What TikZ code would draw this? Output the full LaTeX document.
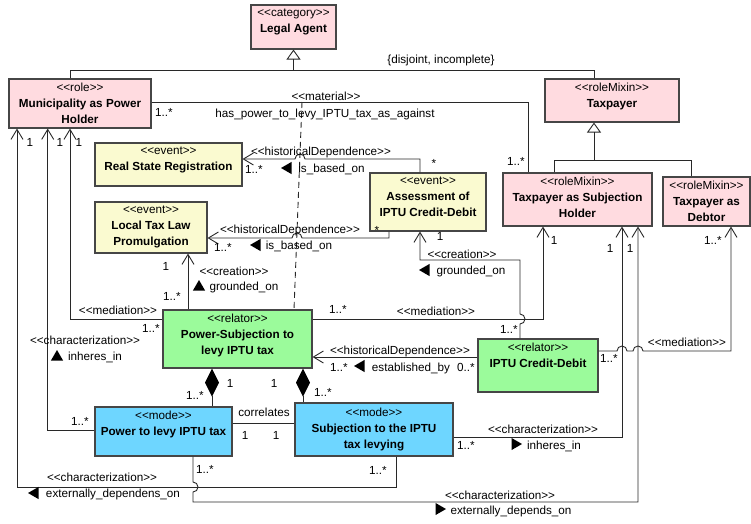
\documentclass[tikz,border=0pt]{standalone}
\usepackage{fontspec}
\setmainfont{Liberation Sans}
\usepackage{tikz}
\usepackage{xcolor}
\usetikzlibrary{shapes, shapes.geometric, positioning, arrows.meta}

\definecolor{rolepink}{RGB}{255,219,224}
\definecolor{eventyellow}{RGB}{250,250,208}
\definecolor{relatorgreen}{RGB}{155,251,155}
\definecolor{modeblue}{RGB}{110,214,255}
\definecolor{boxedge}{RGB}{70,70,70}
\definecolor{wireclr}{RGB}{40,40,40}

\newcommand{\stereo}[1]{<{}<#1>{}>}

\begin{document}
\begin{tikzpicture}[x=1pt, y=-1pt,
        font=\fontsize{11.7}{16}\selectfont,
        umlbox/.style={draw=boxedge, line width=1.1pt, inner sep=0pt},
        boxtext/.style={align=center, inner sep=0pt},
        lbl/.style={inner sep=0pt, text height=8.5pt, text depth=2.5pt},
        wire/.style={draw=wireclr, line width=0.9pt},
        navi/.style={wire, -{Straight Barb[length=10pt, width=12pt]}},
        gen/.style={wire, -{Triangle[open, length=10pt, width=14pt]}},
        comp/.style={wire, {Diamond[length=28pt, width=14pt, color=black, fill=black]}-},
        tri/.style={regular polygon, regular polygon sides=3, fill=black, inner sep=0pt, minimum size=14pt}]
    \useasboundingbox (0, 0) rectangle (751, 523);

    % classes
    \node[umlbox, fill=rolepink, minimum width=85pt, minimum height=44pt] (legal) at (293.5, 27) {};
    \node[boxtext, below=4.5pt of legal.north] (legal-t) {\stereo{category}\\\textbf{Legal Agent}};
    \node[umlbox, fill=rolepink, minimum width=142pt, minimum height=49pt] (muni) at (80, 103.5) {};
    \node[boxtext, below=4.5pt of muni.north] (muni-t) {\stereo{role}\\\textbf{Municipality as Power}\\\textbf{Holder}};
    \node[umlbox, fill=rolepink, minimum width=134pt, minimum height=43pt] (taxp) at (612, 100.5) {};
    \node[boxtext, below=4.5pt of taxp.north] (taxp-t) {\stereo{roleMixin}\\\textbf{Taxpayer}};
    \node[umlbox, fill=rolepink, minimum width=149pt, minimum height=53pt] (tsh) at (577.5, 199.5) {};
    \node[boxtext, below=4.5pt of tsh.north] (tsh-t) {\stereo{roleMixin}\\\textbf{Taxpayer as Subjection}\\\textbf{Holder}};
    \node[umlbox, fill=rolepink, minimum width=87pt, minimum height=49pt] (debtor) at (706.5, 201.5) {};
    \node[boxtext, below=4.5pt of debtor.north] (debtor-t) {\stereo{roleMixin}\\\textbf{Taxpayer as}\\\textbf{Debtor}};

    \node[umlbox, fill=eventyellow, minimum width=147pt, minimum height=43pt] (rsr) at (168.5, 164.5) {};
    \node[boxtext, below=4.5pt of rsr.north] (rsr-t) {\stereo{event}\\\textbf{Real State Registration}};
    \node[umlbox, fill=eventyellow, minimum width=112pt, minimum height=51pt] (ltl) at (151, 227.5) {};
    \node[boxtext, below=4.5pt of ltl.north] (ltl-t) {\stereo{event}\\\textbf{Local Tax Law}\\\textbf{Promulgation}};
    \node[umlbox, fill=eventyellow, minimum width=116pt, minimum height=58pt] (assess) at (428, 202) {};
    \node[boxtext, below=4.5pt of assess.north] (assess-t) {\stereo{event}\\\textbf{Assessment of}\\\textbf{IPTU Credit-Debit}};

    \node[umlbox, fill=relatorgreen, minimum width=149pt, minimum height=58pt] (psr) at (237.5, 339) {};
    \node[boxtext, below=4pt of psr.north] (psr-t) {\stereo{relator}\\\textbf{Power-Subjection to}\\\textbf{levy IPTU tax}};
    \node[umlbox, fill=relatorgreen, minimum width=120pt, minimum height=53pt] (iptu) at (538, 365.5) {};
    \node[boxtext, below=4.5pt of iptu.north] (iptu-t) {\stereo{relator}\\\textbf{IPTU Credit-Debit}};

    \node[umlbox, fill=modeblue, minimum width=137pt, minimum height=49pt] (power) at (163.5, 431.5) {};
    \node[boxtext, below=4pt of power.north] (power-t) {\stereo{mode}\\\textbf{Power to levy IPTU tax}};
    \node[umlbox, fill=modeblue, minimum width=158pt, minimum height=53pt] (subj) at (374, 429.5) {};
    \node[boxtext, below=5pt of subj.north] (subj-t) {\stereo{mode}\\\textbf{Subjection to the IPTU}\\\textbf{tax levying}};

    % generalizations
    \coordinate (gsa) at (293.5, 70);
    \coordinate (gsb) at (594, 160);
    \draw[wire] (muni.north -| 70,0) -- (70, 70) -- (594, 70) -- (taxp.north -| 594,0);
    \draw[gen] (gsa) -- (legal.south);
    \node[lbl] (gs-a) at (441, 60) {\{disjoint, incomplete\}};
    \draw[wire] (tsh.north -| 554,0) -- (554, 160) -- (691, 160) -- (debtor.north -| 691,0);
    \draw[gen] (gsb) -- (gsb |- taxp.south);

    % material
    \coordinate (matpt) at (302, 102);
    \draw[wire] (muni.east |- 0,102) -| (tsh.north -| 528,0);
    \draw[wire, dash pattern=on 6pt off 4pt] (matpt) -- (psr.north -| 294,0);
    \node[lbl] (mat-m1) at (164, 113) {1..*};
    \node[lbl] (mat-st) at (326, 97) {\stereo{material}};
    \node[lbl] (mat-n) at (325, 114) {has\_power\_to\_levy\_IPTU\_tax\_as\_against};
    \node[lbl] (mat-m2) at (516, 162) {1..*};

    % historical dependences
    \draw[navi] (assess.north -| 420,0) |- (305, 159) arc[start angle=0, end angle=180, radius=5pt] -- (rsr.east |- 0,159);
    \node[lbl] (hd1-st) at (321, 152) {\stereo{historicalDependence}};
    \node[tri, rotate=90] (hd1-tri) at (288, 168) {};
    \node[lbl] (hd1-n) at (331.5, 169) {is\_based\_on};
    \node[lbl] (hd1-m1) at (254, 170) {1..*};
    \node[lbl] (hd1-m2) at (434, 164) {*};

    \draw[navi] (assess.south -| 389,0) |- (302, 238) arc[start angle=0, end angle=180, radius=5pt] -- (ltl.east |- 0,238);
    \node[lbl] (hd2-st) at (290, 230) {\stereo{historicalDependence}};
    \node[tri, rotate=90] (hd2-tri) at (257, 245) {};
    \node[lbl] (hd2-n) at (299, 246) {is\_based\_on};
    \node[lbl] (hd2-m1) at (223, 248) {1..*};
    \node[lbl] (hd2-m2) at (377, 231) {*};

    \draw[navi] (iptu.west |- 0,357) -- (psr.east |- 0,357);
    \node[lbl] (hd3-st) at (400, 351) {\stereo{historicalDependence}};
    \node[tri, rotate=90] (hd3-tri) at (361, 366) {};
    \node[lbl] (hd3-n) at (411, 368) {established\_by};
    \node[lbl] (hd3-m1) at (339, 368) {1..*};
    \node[lbl] (hd3-m2) at (466, 368) {0..*};

    % creations
    \draw[navi] (psr.north -| 188,0) -- (ltl.south -| 188,0);
    \node[lbl] (cr1-m1) at (166, 267) {1};
    \node[lbl] (cr1-m2) at (172, 297) {1..*};
    \node[lbl] (cr1-st) at (234, 272) {\stereo{creation}};
    \node[tri] (cr1-tri) at (199, 287) {};
    \node[lbl] (cr1-n) at (244, 287) {grounded\_on};

    \draw[navi] (iptu.north -| 520,0) -- (520, 324) arc[start angle=-90, end angle=90, radius=5pt] -- (520, 260) -- (420, 260) -- (assess.south -| 420,0);
    \node[lbl] (cr2-m1) at (440, 237) {1};
    \node[lbl] (cr2-st) at (462, 255) {\stereo{creation}};
    \node[tri, rotate=90] (cr2-tri) at (426, 270) {};
    \node[lbl] (cr2-n) at (471, 271) {grounded\_on};
    \node[lbl] (cr2-m2) at (509, 330) {1..*};

    % mediations
    \draw[navi] (psr.east |- 0,319) -| (tsh.south -| 543,0);
    \node[lbl] (me1-m1) at (338, 310) {1..*};
    \node[lbl] (me1-st) at (436, 312) {\stereo{mediation}};
    \node[lbl] (me1-m2) at (554, 241) {1};

    \draw[navi] (psr.west |- 0,319) -| (muni.south -| 70,0);
    \node[lbl] (me2-st) at (118, 311) {\stereo{mediation}};
    \node[lbl] (me2-m1) at (151, 329) {1..*};
    \node[lbl] (me2-m2) at (79, 143) {1};

    \draw[navi] (iptu.east |- 0,351) -- (617, 351) arc[start angle=180, end angle=0, radius=5pt] -- (633, 351) arc[start angle=180, end angle=0, radius=5pt] -- (731, 351) -- (debtor.south -| 731,0);
    \node[lbl] (me3-m1) at (609, 359) {1..*};
    \node[lbl] (me3-st) at (687, 343) {\stereo{mediation}};
    \node[lbl] (me3-m2) at (713, 241) {1..*};

    % compositions
    \draw[comp] (psr.south -| 212,0) -- (power.north -| 212,0);
    \node[lbl] (co1-m1) at (230, 384) {1};
    \node[lbl] (co1-m2) at (195, 396) {1..*};
    \draw[comp] (psr.south -| 303,0) -- (subj.north -| 303,0);
    \node[lbl] (co2-m1) at (274, 384) {1};
    \node[lbl] (co2-m2) at (323, 393) {1..*};

    % correlates
    \draw[wire] (power.east |- 0,423) -- (subj.west |- 0,423);
    \node[lbl] (cor-n) at (264, 413) {correlates};
    \node[lbl] (cor-m1) at (245, 436) {1};
    \node[lbl] (cor-m2) at (276, 436) {1};

    % characterizations
    \draw[navi] (power.west |- 0,430) -| (muni.south -| 47.7,0);
    \node[lbl] (ch1-st) at (85, 341) {\stereo{characterization}};
    \node[tri] (ch1-tri) at (57, 357) {};
    \node[lbl] (ch1-n) at (95, 357) {inheres\_in};
    \node[lbl] (ch1-m1) at (80, 422) {1..*};
    \node[lbl] (ch1-m2) at (60, 143) {1};

    \draw[navi] (subj.south -| 396,0) -- (396, 487) -| (muni.south -| 17,0);
    \node[lbl] (ch2-st) at (102, 478) {\stereo{characterization}};
    \node[tri, rotate=90] (ch2-tri) at (35, 493) {};
    \node[lbl] (ch2-n) at (113, 494) {externally\_dependens\_on};
    \node[lbl] (ch2-m1) at (378, 471) {1..*};
    \node[lbl] (ch2-m2) at (30, 143) {1};

    \draw[navi] (power.south -| 193,0) -- (193, 482) arc[start angle=90, end angle=-90, radius=5pt] -- (193, 502) -| (tsh.south -| 638,0);
    \node[lbl] (ch3-m1) at (205, 470) {1..*};
    \node[lbl] (ch3-st) at (500, 496) {\stereo{characterization}};
    \node[tri, rotate=-90] (ch3-tri) at (439, 509) {};
    \node[lbl] (ch3-n) at (511, 511) {externally\_depends\_on};
    \node[lbl] (ch3-m2) at (630, 249) {1};

    \draw[navi] (subj.east |- 0,437) -| (tsh.south -| 622,0);
    \node[lbl] (ch4-m1) at (466, 446) {1..*};
    \node[lbl] (ch4-st) at (543, 430) {\stereo{characterization}};
    \node[tri, rotate=-90] (ch4-tri) at (515, 444) {};
    \node[lbl] (ch4-n) at (554, 446) {inheres\_in};
    \node[lbl] (ch4-m2) at (610, 249) {1};
\end{tikzpicture}
\end{document}
